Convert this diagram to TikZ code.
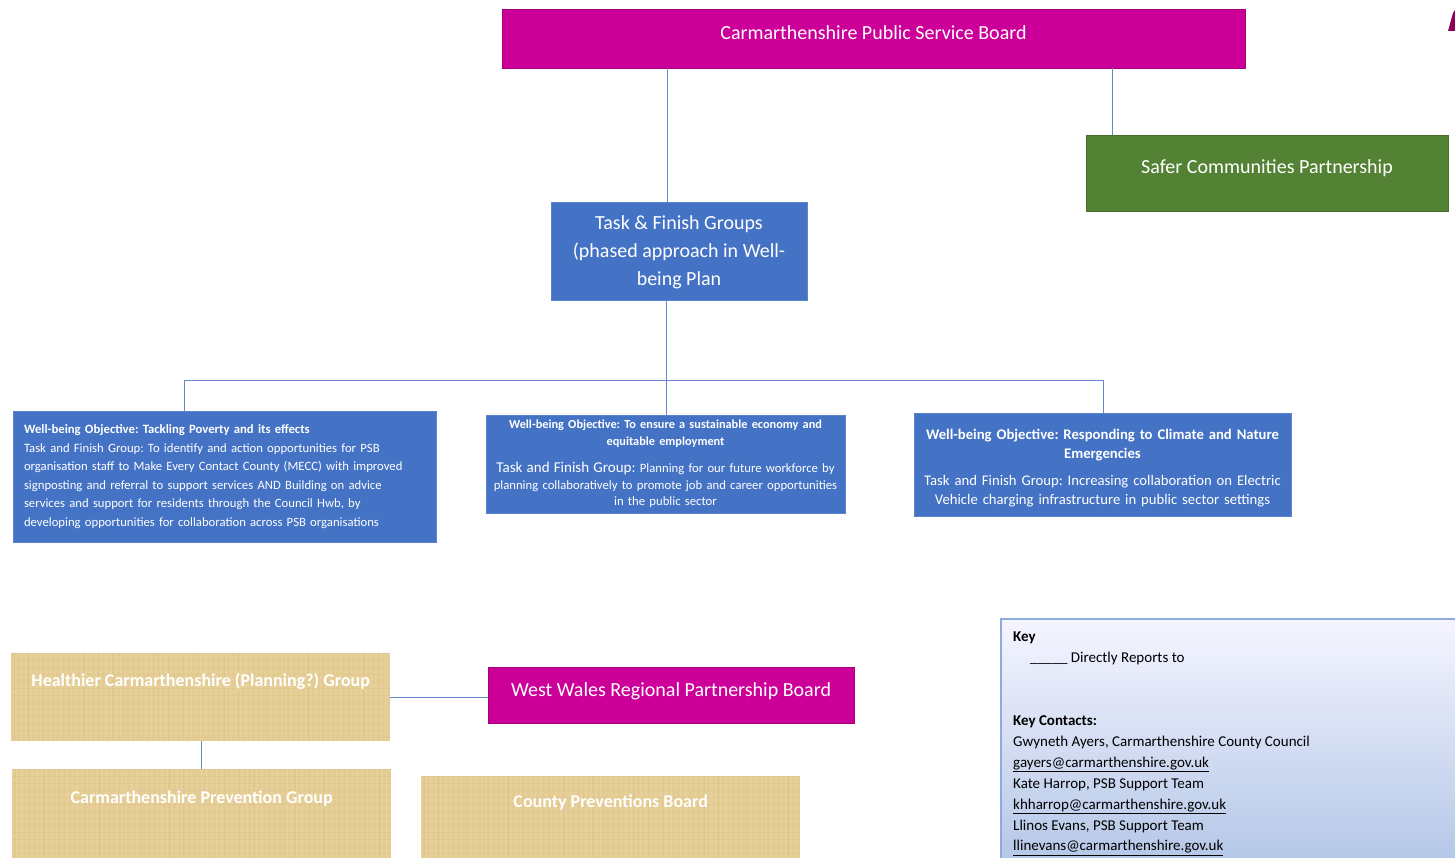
\documentclass[tikz,border=0pt]{standalone}
\usepackage{fontspec}
\setmainfont{Carlito}
\frenchspacing
\usetikzlibrary{calc}
\definecolor{psbmag}{RGB}{204,0,153}
\definecolor{sfgreen}{RGB}{84,130,53}
\definecolor{blu}{RGB}{68,114,196}
\definecolor{bluedge}{RGB}{91,132,208}
\definecolor{conn}{RGB}{100,135,205}
\definecolor{papy}{RGB}{228,204,146}
\definecolor{keyedge}{RGB}{143,170,220}
\definecolor{keybot}{RGB}{180,199,231}
\definecolor{darkmag}{RGB}{140,0,90}
\tikzset{
  magbox/.style={rectangle, fill=psbmag, draw=psbmag!80!black, line width=0.6pt, text=white, inner sep=0pt, align=center},
  greenbox/.style={rectangle, fill=sfgreen, draw=sfgreen!85!black, line width=0.6pt, text=white, inner sep=0pt, align=center},
  bluebox/.style={rectangle, fill=blu, draw=bluedge, line width=1pt, text=white, inner sep=0pt},
  papyrus/.style={rectangle, fill=papy, inner sep=0pt, text=white, align=center,
    font=\fontsize{18}{21}\selectfont\bfseries,
    path picture={
      \foreach \i in {0,5,...,400}{
        \draw[white,opacity=0.10,line width=1.5pt] ([xshift=\i]path picture bounding box.north west) -- ([xshift=\i]path picture bounding box.south west);
      }
      \foreach \j in {0,7,...,100}{
        \draw[brown,opacity=0.08,line width=1pt] ([yshift=-\j]path picture bounding box.north west) -- ([yshift=-\j]path picture bounding box.north east);
      }
      \foreach \i in {3,17,...,400}{
        \draw[brown,opacity=0.06,line width=0.8pt] ([xshift=\i]path picture bounding box.north west) -- ([xshift=\i]path picture bounding box.south west);
      }
    }},
  link/.style={draw=conn, line width=1pt}
}
\begin{document}
\begin{tikzpicture}[x=1pt,y=-1pt]
\useasboundingbox (0,0) rectangle (1455,858);
\fill[white] (0,0) rectangle (1455,858);

% top-right fragment
\fill[darkmag] (1448,31) -- (1453,13) -- (1455,10) -- (1455,31) -- cycle;

% main boxes
\node[magbox, minimum width=743pt, minimum height=59pt, font=\fontsize{20}{24}\selectfont] (psb) at (873.5,38.5) {\raisebox{12.5pt}{Carmarthenshire Public Service Board}};
\node[greenbox, minimum width=362pt, minimum height=76pt, font=\fontsize{20}{24}\selectfont] (safer) at (1267,173) {\raisebox{13pt}{Safer Communities Partnership}};
\node[bluebox, align=center, minimum width=256pt, minimum height=98pt, font=\fontsize{20}{28}\selectfont] (task) at (679,252) {Task \& Finish Groups\\(phased approach in Well-\\being Plan};

\node[bluebox, align=left, text width=401pt, minimum width=423pt, minimum height=131pt, font=\fontsize{12.7}{18.5}\selectfont] (obj1) at (224.5,476.5)
 {\rule{0pt}{3pt}\textbf{Well-being Objective: Tackling Poverty and its effects}\\
 Task and Finish Group: To identify and action opportunities for PSB\\
 organisation staff to Make Every Contact County (MECC) with improved\\
 signposting and referral to support services AND Building on advice\\
 services and support for residents through the Council Hwb, by\\
 developing opportunities for collaboration across PSB organisations};

\node[bluebox, align=center, text width=359pt, minimum width=359pt, minimum height=98pt, font=\fontsize{12.7}{16.5}\selectfont] (obj2) at (665.5,464)
 {\raisebox{4pt}{\fontsize{12.3}{16.5}\selectfont\textbf{Well-being Objective: To ensure a sustainable economy and}}\\
 \raisebox{4pt}{\fontsize{12.3}{16.5}\selectfont\textbf{equitable employment}}\\[7pt]
 \makebox[0pt]{\makebox[0pt]{{\fontsize{15}{16.5}\selectfont Task and Finish Group:} Planning for our future workforce by}}\\
 \makebox[0pt]{planning collaboratively to promote job and career opportunities}\\
 in the public sector};

\node[bluebox, align=center, text width=377pt, minimum width=377pt, minimum height=103pt, font=\fontsize{14.7}{19}\selectfont] (obj3) at (1102.5,464.5)
 {\rule{0pt}{17pt}\textbf{Well-being Objective: Responding to Climate and Nature}\\
 \textbf{Emergencies}\\[8pt]
 Task and Finish Group: Increasing collaboration on Electric\\
 Vehicle charging infrastructure in public sector settings};

% connectors top
\draw[link] (psb.south -| task.north) ++(-12,0) coordinate (psbL) -- (psbL |- task.north);
\draw[link] (1112,0 |- psb.south) coordinate (psbR) -- (psbR |- safer.north);
\coordinate (bus) at (666,380);
\draw[link] (task.south -| bus) -- (bus);
\draw[link] (obj1.north -| 184,0) coordinate (b1) -- (b1 |- bus) -- (1103,380) coordinate (b3) -- (b3 |- obj3.north);
\draw[link] (bus) -- (bus |- obj2.north);

% lower boxes
\node[papyrus, minimum width=379pt, minimum height=88pt, anchor=north west] (health) at (11,653) {\raisebox{34pt}{Healthier Carmarthenshire (Planning?) Group}};
\node[papyrus, minimum width=379pt, minimum height=92pt, anchor=north west] (prev) at (12,769) {\raisebox{36pt}{Carmarthenshire Prevention Group}};
\node[papyrus, minimum width=379pt, minimum height=85pt, anchor=north west] (county) at (421,776) {\raisebox{36pt}{County Preventions Board}};
\node[magbox, minimum width=366pt, minimum height=56pt, font=\fontsize{20}{24}\selectfont] (wwrpb) at (671,695) {\raisebox{11pt}{West Wales Regional Partnership Board}};

\draw[link] (health.south -| 201,0) coordinate (hp) -- (hp |- prev.north);
\draw[link] (health.east |- 0,697) coordinate (hw) -- (hw -| wwrpb.west);

% key box
\shade[top color=white!96!blue, bottom color=keybot] (1001,619) rectangle (1460,862);
\draw[keyedge, line width=1.5pt] (1001,862) -- (1001,619) -- (1460,619);
\node[anchor=north west, align=left, inner sep=0pt, font=\fontsize{15}{20.9}\selectfont, text=black] (key) at (1013,632)
 {\textbf{Key}\\
 \hspace{17pt}\_\_\_\_\_\ Directly Reports to\\[41.8pt]
 \textbf{Key Contacts:}\\
 Gwyneth Ayers, Carmarthenshire County Council\\
 \underline{gayers@carmarthenshire.gov.uk}\\
 Kate Harrop, PSB Support Team\\
 \underline{khharrop@carmarthenshire.gov.uk}\\
 Llinos Evans, PSB Support Team\\
 \underline{llinevans@carmarthenshire.gov.uk}};
\end{tikzpicture}
\end{document}
